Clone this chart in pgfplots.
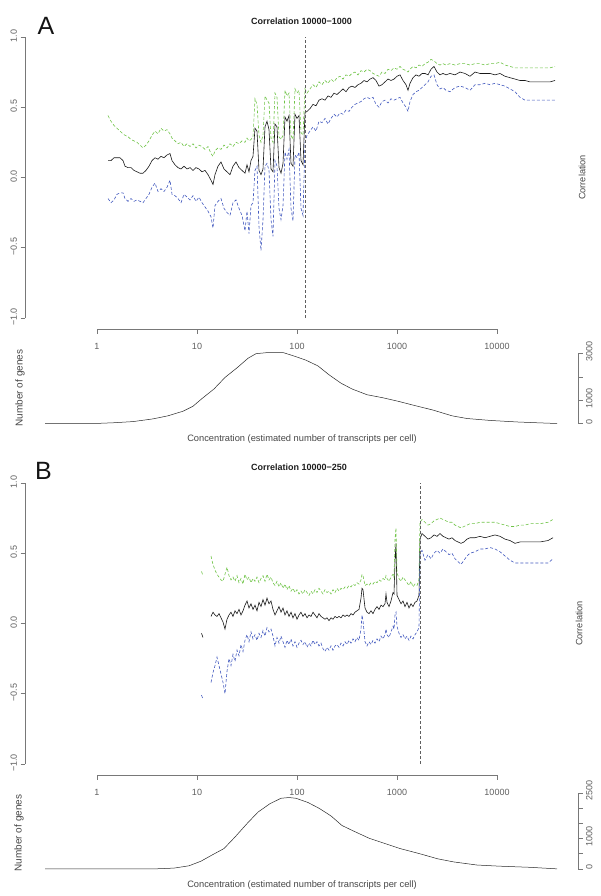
\documentclass[border=0pt]{standalone}
\usepackage{fontspec}
\setmainfont{Liberation Sans}
\usepackage{pgfplots}
\usepackage{pgfplotstable}
\pgfplotsset{compat=1.18}

\definecolor{rgreen}{RGB}{110,195,70}
\definecolor{rblue}{RGB}{65,88,190}
\definecolor{axgray}{RGB}{120,120,120}
\definecolor{labgray}{RGB}{95,95,95}
\definecolor{txtgray}{RGB}{70,70,70}

\pgfplotstableread{
lx lo mid hi
0.11 -0.15 0.12 0.44
0.14 -0.18 0.12 0.40
0.17 -0.16 0.14 0.37
0.20 -0.12 0.14 0.35
0.23 -0.11 0.14 0.33
0.26 -0.11 0.12 0.31
0.28 -0.15 0.08 0.30
0.31 -0.17 0.07 0.29
0.34 -0.15 0.07 0.27
0.37 -0.17 0.05 0.26
0.40 -0.16 0.04 0.25
0.43 -0.17 0.03 0.23
0.46 -0.18 0.03 0.21
0.49 -0.15 0.05 0.23
0.52 -0.12 0.08 0.26
0.55 -0.07 0.12 0.30
0.58 -0.04 0.14 0.33
0.61 -0.10 0.13 0.31
0.64 -0.08 0.15 0.35
0.67 -0.10 0.14 0.33
0.70 -0.07 0.16 0.34
0.73 -0.02 0.17 0.31
0.75 -0.12 0.12 0.28
0.78 -0.13 0.09 0.26
0.81 -0.15 0.07 0.24
0.84 -0.18 0.06 0.25
0.87 -0.12 0.08 0.22
0.90 -0.14 0.06 0.24
0.93 -0.16 0.07 0.22
0.96 -0.13 0.05 0.24
0.99 -0.17 0.07 0.21
1.02 -0.14 0.06 0.23
1.05 -0.18 0.04 0.22
1.08 -0.21 0.05 0.20
1.11 -0.24 0.02 0.22
1.14 -0.28 -0.02 0.17
1.16 -0.36 -0.05 0.15
1.18 -0.20 0.02 0.19
1.21 -0.17 0.08 0.21
1.24 -0.15 0.11 0.20
1.27 -0.22 0.06 0.23
1.30 -0.25 0.04 0.21
1.33 -0.27 0.02 0.24
1.36 -0.18 0.08 0.22
1.39 -0.16 0.11 0.25
1.42 -0.22 0.07 0.24
1.45 -0.27 0.05 0.26
1.48 -0.38 0.03 0.25
1.50 -0.24 0.09 0.28
1.52 -0.40 0.04 0.26
1.54 -0.20 0.12 0.27
1.56 -0.18 0.15 0.29
1.58 0.05 0.35 0.56
1.60 0.08 0.33 0.52
1.62 -0.35 0.05 0.30
1.64 -0.52 0.02 0.25
1.66 -0.30 0.06 0.30
1.68 0.08 0.36 0.58
1.70 0.10 0.40 0.55
1.72 0.05 0.34 0.53
1.74 -0.30 0.06 0.28
1.76 -0.42 0.04 0.25
1.78 0.12 0.38 0.60
1.80 0.08 0.36 0.57
1.82 -0.22 0.07 0.29
1.84 -0.30 0.03 0.27
1.86 -0.20 0.10 0.30
1.88 0.18 0.43 0.62
1.90 0.13 0.40 0.58
1.92 0.20 0.44 0.60
1.94 -0.22 0.10 0.30
1.96 -0.31 0.08 0.27
1.98 0.16 0.45 0.63
2.00 0.14 0.42 0.60
2.02 0.18 0.44 0.62
2.04 -0.22 0.12 0.32
2.06 -0.27 0.09 0.30
2.08 0.25 0.46 0.63
2.10 0.30 0.47 0.60
2.13 0.33 0.49 0.63
2.16 0.36 0.52 0.66
2.19 0.33 0.51 0.64
2.22 0.40 0.55 0.68
2.25 0.39 0.56 0.66
2.28 0.42 0.55 0.69
2.31 0.38 0.58 0.67
2.34 0.42 0.57 0.70
2.37 0.45 0.60 0.68
2.40 0.43 0.59 0.71
2.43 0.46 0.61 0.72
2.46 0.45 0.63 0.70
2.49 0.48 0.61 0.73
2.52 0.47 0.64 0.72
2.55 0.50 0.65 0.74
2.58 0.52 0.64 0.75
2.61 0.53 0.66 0.73
2.64 0.54 0.67 0.76
2.67 0.56 0.69 0.75
2.70 0.57 0.68 0.77
2.73 0.56 0.70 0.76
2.76 0.57 0.71 0.74
2.79 0.52 0.69 0.73
2.82 0.50 0.65 0.72
2.85 0.54 0.66 0.75
2.88 0.55 0.68 0.74
2.91 0.53 0.70 0.77
2.94 0.56 0.69 0.76
2.97 0.55 0.70 0.78
3.00 0.56 0.72 0.77
3.03 0.57 0.73 0.79
3.06 0.53 0.69 0.77
3.09 0.50 0.66 0.76
3.11 0.47 0.62 0.75
3.13 0.54 0.67 0.77
3.16 0.59 0.71 0.79
3.19 0.61 0.73 0.78
3.22 0.62 0.72 0.80
3.25 0.64 0.74 0.79
3.28 0.66 0.74 0.81
3.31 0.68 0.73 0.82
3.34 0.72 0.77 0.84
3.37 0.73 0.79 0.83
3.40 0.66 0.75 0.81
3.43 0.63 0.73 0.80
3.46 0.64 0.74 0.81
3.49 0.62 0.73 0.80
3.53 0.61 0.74 0.81
3.58 0.64 0.73 0.80
3.63 0.65 0.75 0.81
3.68 0.64 0.74 0.81
3.73 0.62 0.72 0.80
3.78 0.66 0.75 0.81
3.83 0.66 0.74 0.81
3.88 0.67 0.74 0.80
3.93 0.66 0.74 0.81
3.98 0.67 0.73 0.81
4.03 0.66 0.74 0.82
4.08 0.65 0.72 0.80
4.13 0.63 0.71 0.79
4.18 0.61 0.70 0.78
4.23 0.57 0.69 0.78
4.28 0.55 0.69 0.78
4.33 0.55 0.68 0.78
4.43 0.55 0.68 0.78
4.53 0.55 0.68 0.78
4.58 0.55 0.69 0.79
}\corrA

\pgfplotstableread{
lx lo mid hi
1.045 -0.51 -0.07 0.37
1.060 -0.54 -0.10 0.34
1.10 nan nan nan
1.14 -0.42 0.05 0.48
1.16 -0.35 0.08 0.42
1.18 -0.30 0.06 0.38
1.20 -0.24 0.05 0.35
1.22 -0.30 0.07 0.33
1.24 -0.36 0.04 0.31
1.26 -0.42 0.01 0.30
1.28 -0.50 -0.04 0.35
1.30 -0.34 0.03 0.40
1.32 -0.25 0.06 0.34
1.34 -0.30 0.08 0.31
1.36 -0.22 0.05 0.33
1.38 -0.27 0.09 0.30
1.40 -0.19 0.07 0.34
1.42 -0.23 0.10 0.29
1.44 -0.15 0.06 0.32
1.46 -0.20 0.09 0.28
1.48 -0.12 0.13 0.35
1.50 -0.08 0.16 0.31
1.52 -0.13 0.11 0.33
1.54 -0.06 0.14 0.29
1.56 -0.11 0.10 0.32
1.58 -0.08 0.13 0.30
1.60 -0.12 0.09 0.33
1.62 -0.07 0.15 0.29
1.64 -0.10 0.12 0.32
1.66 -0.05 0.17 0.34
1.68 -0.09 0.13 0.30
1.70 -0.03 0.18 0.35
1.72 -0.06 0.14 0.31
1.74 -0.04 0.16 0.33
1.76 -0.09 0.10 0.29
1.78 -0.16 0.06 0.27
1.80 -0.10 0.09 0.30
1.82 -0.14 0.12 0.26
1.84 -0.09 0.08 0.29
1.86 -0.13 0.11 0.25
1.88 -0.17 0.06 0.28
1.90 -0.12 0.09 0.24
1.92 -0.15 0.05 0.27
1.94 -0.11 0.08 0.23
1.96 -0.16 0.04 0.25
1.98 -0.13 0.07 0.22
2.00 -0.17 0.03 0.24
2.02 -0.14 0.06 0.21
2.04 -0.12 0.08 0.23
2.06 -0.15 0.05 0.21
2.08 -0.13 0.07 0.24
2.10 -0.17 0.04 0.22
2.12 -0.14 0.06 0.20
2.14 -0.16 0.05 0.23
2.16 -0.12 0.08 0.21
2.18 -0.15 0.06 0.24
2.20 -0.13 0.04 0.22
2.22 -0.16 0.07 0.25
2.24 -0.14 0.05 0.23
2.26 -0.18 0.04 0.21
2.28 -0.20 0.03 0.24
2.30 -0.17 0.04 0.22
2.32 -0.19 0.02 0.23
2.34 -0.16 0.04 0.21
2.36 -0.19 0.03 0.24
2.38 -0.16 0.05 0.22
2.40 -0.15 0.04 0.25
2.42 -0.17 0.05 0.23
2.44 -0.14 0.04 0.25
2.46 -0.16 0.06 0.24
2.48 -0.13 0.05 0.26
2.50 -0.15 0.06 0.25
2.52 -0.12 0.05 0.27
2.54 -0.14 0.07 0.26
2.56 -0.11 0.06 0.28
2.58 -0.13 0.08 0.27
2.60 -0.10 0.09 0.29
2.62 -0.12 0.10 0.28
2.64 -0.04 0.18 0.31
2.65 0.06 0.25 0.35
2.66 0.02 0.24 0.34
2.68 -0.13 0.11 0.27
2.70 -0.16 0.08 0.28
2.72 -0.13 0.07 0.27
2.74 -0.15 0.09 0.29
2.76 -0.12 0.07 0.28
2.78 -0.14 0.10 0.30
2.80 -0.11 0.12 0.29
2.82 -0.13 0.10 0.31
2.84 -0.09 0.13 0.30
2.86 -0.11 0.12 0.32
2.88 -0.08 0.14 0.31
2.89 -0.04 0.21 0.34
2.90 -0.08 0.15 0.32
2.92 -0.10 0.12 0.30
2.94 -0.06 0.16 0.33
2.96 -0.02 0.22 0.35
2.97 -0.04 0.21 0.33
2.98 0.06 0.44 0.60
2.99 0.08 0.57 0.68
3.00 -0.02 0.20 0.36
3.02 -0.07 0.17 0.32
3.04 -0.10 0.14 0.30
3.06 -0.08 0.16 0.33
3.08 -0.11 0.12 0.31
3.10 -0.09 0.15 0.29
3.12 -0.12 0.11 0.27
3.14 -0.09 0.14 0.30
3.16 -0.11 0.12 0.26
3.18 -0.08 0.15 0.28
3.20 -0.06 0.16 0.27
3.22 -0.03 0.20 0.31
3.23 0.50 0.60 0.72
3.25 0.52 0.64 0.74
3.28 0.45 0.62 0.72
3.31 0.49 0.60 0.70
3.34 0.46 0.61 0.71
3.37 0.50 0.63 0.73
3.40 0.52 0.62 0.74
3.43 0.50 0.64 0.75
3.46 0.53 0.62 0.74
3.49 0.51 0.61 0.73
3.52 0.49 0.60 0.72
3.55 0.50 0.61 0.72
3.58 0.46 0.59 0.70
3.61 0.44 0.58 0.69
3.64 0.42 0.57 0.68
3.67 0.45 0.58 0.69
3.70 0.48 0.60 0.70
3.73 0.50 0.61 0.71
3.78 0.51 0.61 0.71
3.83 0.53 0.62 0.72
3.88 0.53 0.61 0.72
3.93 0.54 0.62 0.72
3.98 0.53 0.63 0.72
4.03 0.51 0.62 0.71
4.08 0.48 0.60 0.70
4.13 0.45 0.59 0.69
4.18 0.43 0.57 0.69
4.23 0.43 0.58 0.70
4.28 0.43 0.58 0.70
4.33 0.43 0.58 0.71
4.43 0.43 0.58 0.71
4.51 0.43 0.59 0.72
4.56 0.46 0.61 0.74
}\corrB

\pgfplotstableread{
lx n
-0.52 0
-0.02 0
0.17 33
0.36 82
0.56 198
0.71 330
0.86 527
0.96 742
1.05 1071
1.17 1483
1.28 1978
1.40 2390
1.51 2801
1.59 2999
1.71 3048
1.86 3048
1.98 2884
2.09 2719
2.21 2472
2.32 2093
2.44 1731
2.55 1483
2.70 1236
2.86 1104
3.01 956
3.16 791
3.36 577
3.55 330
3.70 214
3.93 132
4.20 66
4.39 33
4.60 0
}\densA

\pgfplotstableread{
lx n
-0.52 0
0.58 0
0.77 25
0.92 101
1.04 253
1.15 455
1.27 669
1.38 1048
1.50 1490
1.61 1869
1.73 2147
1.84 2324
1.92 2349
1.99 2324
2.11 2185
2.22 1996
2.34 1743
2.45 1427
2.57 1238
2.72 1010
2.88 834
3.03 669
3.22 505
3.41 328
3.57 227
3.80 126
4.03 88
4.33 51
4.60 0
}\densB

\pgfplotsset{
  rbase/.style={scale only axis, clip=false, xmin=-0.72, xmax=4.81, width=553pt,
    axis line style={draw=none}, tick align=outside, major tick length=4.5pt,
    tick style={draw=axgray, line width=0.5pt},
    tick label style={font=\fontsize{9}{10.8}\selectfont, text=labgray},
    anchor=south west},
  rcorr/.style={rbase, height=303.5pt, ymin=-1.08, ymax=1.08, axis lines*=left,
    xtick={0,1,2,3,4}, xticklabels={1,10,100,1000,10000},
    ytick={-1,-0.5,0,0.5,1}, yticklabels={−1.0,−0.5,0.0,0.5,1.0},
    yticklabel style={rotate=90, anchor=south, xshift=1pt},
    xticklabel style={yshift=-6pt}, unbounded coords=jump},
  rdens/.style={rbase, axis x line=none, axis y line*=right,
    yticklabel style={rotate=90, anchor=north, xshift=2pt}},
  kline/.style={color={rgb,255:red,25;green,25;blue,25}, line width=0.6pt},
  gline/.style={rgreen, line width=0.6pt, dash pattern=on 3pt off 2pt},
  bline/.style={rblue, line width=0.6pt, dash pattern=on 3pt off 2pt},
  vline/.style={color={rgb,255:red,95;green,95;blue,95}, line width=0.5pt, dash pattern=on 2.5pt off 2.5pt},
}

\begin{document}
\begin{tikzpicture}
\path[use as bounding box] (0pt,0pt) rectangle (600pt,896pt);

% ---------- Panel A correlation ----------
\begin{axis}[rcorr, at={(25pt,566.8pt)}]
\addplot[kline] table[x=lx,y=mid]{\corrA};
\addplot[gline] table[x=lx,y=hi]{\corrA};
\addplot[bline] table[x=lx,y=lo]{\corrA};
\addplot[vline] coordinates {(2.08,-1) (2.08,1)};
\draw[axgray, line width=0.5pt] (axis cs:0,-1.08) -- (axis cs:4,-1.08);
\draw[axgray, line width=0.5pt] (axis cs:-0.72,-1) -- (axis cs:-0.72,1);
\end{axis}

% ---------- Panel A density ----------
\begin{axis}[rdens, at={(25pt,469pt)}, height=78pt, ymin=-150, ymax=3200,
  ytick={0,1000,2000,3000}, yticklabels={0,1000,{},3000}]
\addplot[color={rgb,255:red,40;green,40;blue,40}, line width=0.5pt] table[x=lx,y=n]{\densA};
\draw[axgray, line width=0.5pt] (axis cs:4.81,0) -- (axis cs:4.81,3000);
\end{axis}

% ---------- Panel B correlation ----------
\begin{axis}[rcorr, at={(25pt,120.8pt)}]
\addplot[kline] table[x=lx,y=mid]{\corrB};
\addplot[gline] table[x=lx,y=hi]{\corrB};
\addplot[bline] table[x=lx,y=lo]{\corrB};
\addplot[vline] coordinates {(3.23,-1) (3.23,1)};
\draw[axgray, line width=0.5pt] (axis cs:0,-1.08) -- (axis cs:4,-1.08);
\draw[axgray, line width=0.5pt] (axis cs:-0.72,-1) -- (axis cs:-0.72,1);
\end{axis}

% ---------- Panel B density ----------
\begin{axis}[rdens, at={(25pt,24.1pt)}, height=82pt, ymin=-100, ymax=2600,
  ytick={0,500,1000,1500,2000,2500}, yticklabels={0,{},1000,{},{},2500}]
\addplot[color={rgb,255:red,40;green,40;blue,40}, line width=0.5pt] table[x=lx,y=n]{\densB};
\draw[axgray, line width=0.5pt] (axis cs:4.81,0) -- (axis cs:4.81,2500);
\end{axis}

% ---------- Texts ----------
\node[font=\fontsize{25}{25}\selectfont, text={rgb,255:red,20;green,20;blue,20}] at (46pt,870pt) {A};
\node[font=\fontsize{25}{25}\selectfont, text={rgb,255:red,20;green,20;blue,20}] at (43.5pt,425pt) {B};
\node[font=\bfseries\fontsize{9}{10.8}\selectfont, text={rgb,255:red,30;green,30;blue,30}] at (301.5pt,875pt) {Correlation 10000−1000};
\node[font=\bfseries\fontsize{9}{10.8}\selectfont, text={rgb,255:red,30;green,30;blue,30}] at (299pt,429pt) {Correlation 10000−250};
\node[rotate=90, font=\fontsize{9.2}{11}\selectfont, text=txtgray] at (582pt,718.5pt) {Correlation};
\node[rotate=90, font=\fontsize{9.2}{11}\selectfont, text=txtgray] at (579pt,272.5pt) {Correlation};
\node[rotate=90, font=\fontsize{10}{12}\selectfont, text=txtgray] at (20pt,508pt) {Number of genes};
\node[rotate=90, font=\fontsize{10}{12}\selectfont, text=txtgray] at (19pt,63pt) {Number of genes};
\node[font=\fontsize{9.3}{11}\selectfont, text=txtgray] at (302pt,457pt) {Concentration (estimated number of transcripts per cell)};
\node[font=\fontsize{9.3}{11}\selectfont, text=txtgray] at (302pt,11pt) {Concentration (estimated number of transcripts per cell)};
\end{tikzpicture}
\end{document}
